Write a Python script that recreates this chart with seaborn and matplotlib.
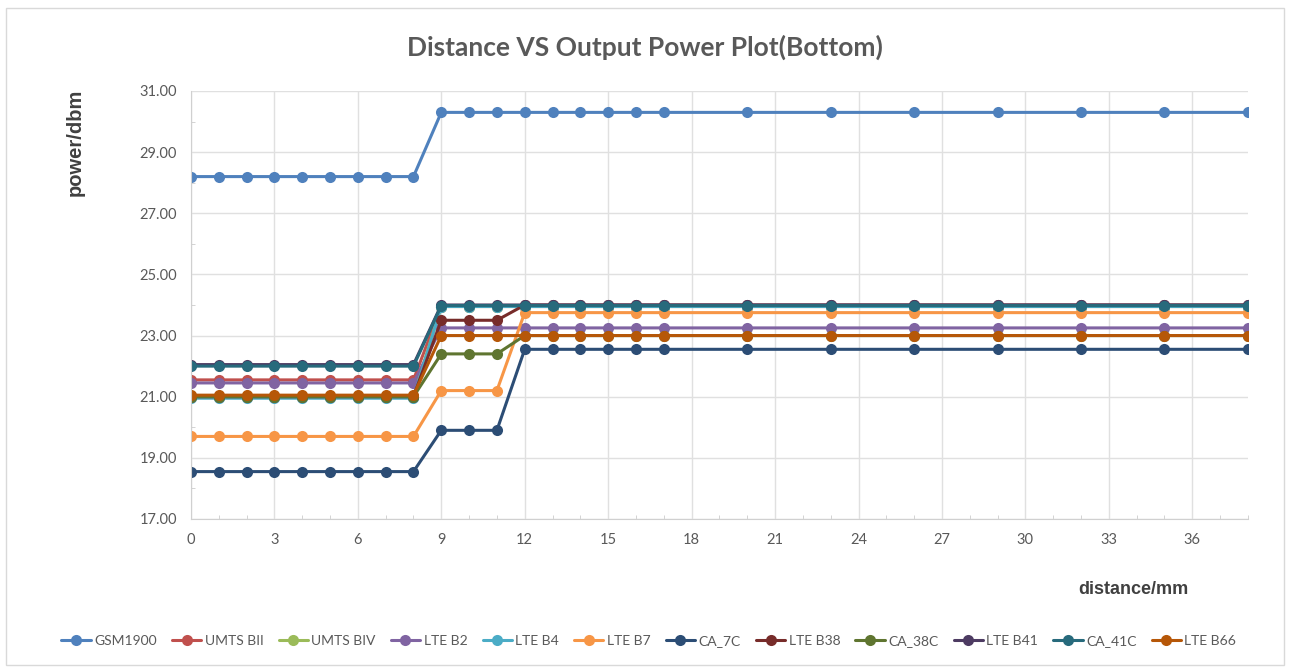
import numpy as np
import pandas as pd
import matplotlib
matplotlib.use('Agg')
import matplotlib.pyplot as plt
import seaborn as sns
from matplotlib.patches import Rectangle

# distance points (mm)
distance = [0, 1, 2, 3, 4, 5, 6, 7, 8, 9, 10, 11, 12, 13, 14, 15, 16, 17,
            20, 23, 26, 29, 32, 35, 38]

# output power (dBm), one list per band
gsm1900  = [28.2, 28.2, 28.2, 28.2, 28.2, 28.2, 28.2, 28.2, 28.2,
            30.3, 30.3, 30.3, 30.3, 30.3, 30.3, 30.3, 30.3, 30.3, 30.3, 30.3, 30.3, 30.3, 30.3, 30.3, 30.3]
umts_b2  = [21.55, 21.55, 21.55, 21.55, 21.55, 21.55, 21.55, 21.55, 21.55,
            23.95, 23.95, 23.95, 23.95, 23.95, 23.95, 23.95, 23.95, 23.95, 23.95, 23.95, 23.95, 23.95, 23.95, 23.95, 23.95]
umts_b4  = [21.0, 21.0, 21.0, 21.0, 21.0, 21.0, 21.0, 21.0, 21.0,
            23.95, 23.95, 23.95, 23.95, 23.95, 23.95, 23.95, 23.95, 23.95, 23.95, 23.95, 23.95, 23.95, 23.95, 23.95, 23.95]
lte_b2   = [21.45, 21.45, 21.45, 21.45, 21.45, 21.45, 21.45, 21.45, 21.45,
            23.25, 23.25, 23.25, 23.25, 23.25, 23.25, 23.25, 23.25, 23.25, 23.25, 23.25, 23.25, 23.25, 23.25, 23.25, 23.25]
lte_b4   = [20.95, 20.95, 20.95, 20.95, 20.95, 20.95, 20.95, 20.95, 20.95,
            23.95, 23.95, 23.95, 23.95, 23.95, 23.95, 23.95, 23.95, 23.95, 23.95, 23.95, 23.95, 23.95, 23.95, 23.95, 23.95]
lte_b7   = [19.7, 19.7, 19.7, 19.7, 19.7, 19.7, 19.7, 19.7, 19.7,
            21.2, 21.2, 21.2,
            23.75, 23.75, 23.75, 23.75, 23.75, 23.75, 23.75, 23.75, 23.75, 23.75, 23.75, 23.75, 23.75]
ca_7c    = [18.55, 18.55, 18.55, 18.55, 18.55, 18.55, 18.55, 18.55, 18.55,
            19.9, 19.9, 19.9,
            22.55, 22.55, 22.55, 22.55, 22.55, 22.55, 22.55, 22.55, 22.55, 22.55, 22.55, 22.55, 22.55]
lte_b38  = [21.0, 21.0, 21.0, 21.0, 21.0, 21.0, 21.0, 21.0, 21.0,
            23.5, 23.5, 23.5,
            24.0, 24.0, 24.0, 24.0, 24.0, 24.0, 24.0, 24.0, 24.0, 24.0, 24.0, 24.0, 24.0]
ca_38c   = [21.0, 21.0, 21.0, 21.0, 21.0, 21.0, 21.0, 21.0, 21.0,
            22.4, 22.4, 22.4,
            23.0, 23.0, 23.0, 23.0, 23.0, 23.0, 23.0, 23.0, 23.0, 23.0, 23.0, 23.0, 23.0]
lte_b41  = [22.05, 22.05, 22.05, 22.05, 22.05, 22.05, 22.05, 22.05, 22.05,
            24.0, 24.0, 24.0, 24.0, 24.0, 24.0, 24.0, 24.0, 24.0, 24.0, 24.0, 24.0, 24.0, 24.0, 24.0, 24.0]
ca_41c   = [22.0, 22.0, 22.0, 22.0, 22.0, 22.0, 22.0, 22.0, 22.0,
            23.98, 23.98, 23.98, 23.98, 23.98, 23.98, 23.98, 23.98, 23.98, 23.98, 23.98, 23.98, 23.98, 23.98, 23.98, 23.98]
lte_b66  = [21.05, 21.05, 21.05, 21.05, 21.05, 21.05, 21.05, 21.05, 21.05,
            23.0, 23.0, 23.0, 23.0, 23.0, 23.0, 23.0, 23.0, 23.0, 23.0, 23.0, 23.0, 23.0, 23.0, 23.0, 23.0]

bands = ['GSM1900', 'UMTS BII', 'UMTS BIV', 'LTE B2', 'LTE B4', 'LTE B7',
         'CA_7C', 'LTE B38', 'CA_38C', 'LTE B41', 'CA_41C', 'LTE B66']
series = [gsm1900, umts_b2, umts_b4, lte_b2, lte_b4, lte_b7,
          ca_7c, lte_b38, ca_38c, lte_b41, ca_41c, lte_b66]
colors = ['#4F81BD', '#C0504D', '#9BBB59', '#8064A2', '#4BACC6', '#F79646',
          '#2C4D75', '#772C2A', '#5F7530', '#4D3B62', '#276A7C', '#B65708']

# long format for seaborn
df = pd.DataFrame({'distance': distance})
for name, vals in zip(bands, series):
    df[name] = vals
long = df.melt(id_vars='distance', var_name='band', value_name='power')

sns.set_style('white')
plt.rcParams['font.family'] = ['Lato', 'DejaVu Sans']

fig = plt.figure(figsize=(12.9, 6.7), dpi=100)
ax = fig.add_axes([0.148, 0.2254, 0.8194, 0.6388])

sns.lineplot(data=long, x='distance', y='power', hue='band', hue_order=bands,
             palette=colors, marker='o', markersize=8, markeredgewidth=0,
             linewidth=2.2, ax=ax)

handles, labels = ax.get_legend_handles_labels()
ax.legend_.remove()

ax.set_xlim(0, 38)
ax.set_ylim(17, 31)
ax.set_xticks(np.arange(0, 37, 3))
ax.set_xticks(np.arange(0, 39, 1), minor=True)
ax.set_yticks(np.arange(17, 31.1, 2))
ax.set_yticks(np.arange(17, 31.1, 1), minor=True)
ax.set_yticklabels(['%.2f' % v for v in np.arange(17, 31.1, 2)])
ax.grid(True, which='major', color='#e0e0e0', linewidth=1)
ax.tick_params(which='major', length=0, labelsize=10.5, labelcolor='#595959', pad=10)
ax.tick_params(which='minor', direction='in', length=3, color='#cccccc')
ax.tick_params(axis='y', which='minor', left=True)
ax.tick_params(axis='x', which='minor', bottom=True)
for s in ['top', 'right']:
    ax.spines[s].set_visible(False)
for s in ['left', 'bottom']:
    ax.spines[s].set_color('#d0d0d0')
ax.set_xlabel('')
ax.set_ylabel('')

fig.text(0.5, 0.93, 'Distance VS Output Power Plot(Bottom)', ha='center', va='center',
         fontsize=19, fontweight='bold', color='#595959')
fig.text(75 / 1290, 1 - 142 / 670, 'power/dbm', rotation=90, ha='center', va='center',
         fontsize=14.5, fontweight='bold', color='#404040', family='Liberation Sans')
fig.text(1133 / 1290, 1 - 590 / 670, 'distance/mm', ha='center', va='center',
         fontsize=13, fontweight='bold', color='#404040', family='Liberation Sans')

fig.legend(handles, labels, ncol=12, loc='center', bbox_to_anchor=(0.503, 0.043),
           frameon=False, fontsize=10, handlelength=2.1, columnspacing=1.1,
           handletextpad=0.25, labelcolor='#595959', borderpad=0, borderaxespad=0)

fig.patches.append(Rectangle((6 / 1290, 5 / 670), 1278 / 1290, 657 / 670,
                             transform=fig.transFigure, fill=False,
                             edgecolor='#d9d9d9', linewidth=1))

fig.savefig('out.png', dpi=100)
